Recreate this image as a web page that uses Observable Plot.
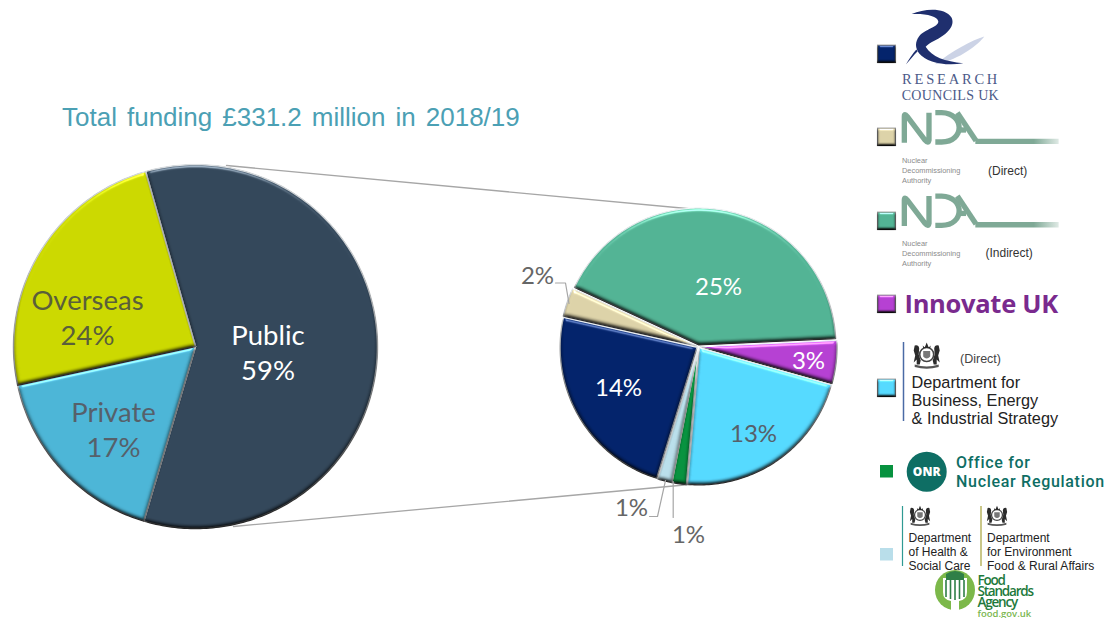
<!DOCTYPE html>
<html>
<head>
<meta charset="utf-8">
<script src="https://cdn.jsdelivr.net/npm/d3@7"></script>
<script src="https://cdn.jsdelivr.net/npm/@observablehq/plot@0.6"></script>
<style>
  html, body { margin: 0; padding: 0; background: #fff; }
  svg { display: block; }
</style>
</head>
<body>
<div id="chart"></div>
<script>
// Funding by source (share of total, %)
const sources = ["Public", "Private", "Overseas"];
const sourceShares = [59, 17, 24];
const sourceColors = ["#33475a", "#4cb5d6", "#cbd800"];
const sourceInk = ["#ffffff", "#56606a", "#5a5f3a"];

// Breakdown of the public share (share of total, %)
const funders = ["NDA (Indirect)", "Innovate UK", "BEIS (Direct)", "ONR", "DHSC, Defra, FSA", "RCUK", "NDA (Direct)"];
const funderShares = [25, 3, 13, 1, 1, 14, 2];
const funderColors = ["#52b394", "#b540d2", "#55d9ff", "#07923f", "#b9deea", "#03236b", "#dcd2a8"];
const funderInk = ["#ffffff", "#ffffff", "#56606a", "#666666", "#666666", "#ffffff", "#666666"];

const title = "Total funding £331.2 million in 2018/19";

// Pie layout, in page pixels
const bigPie = {cx: 195, cy: 346, r: 182, start: -15.9, gap: 0};
const smallPie = {cx: 698, cy: 346, r: 137, start: -65.2, gap: 1.6};

// Label anchors for each slice
const sourceLabelX = [267.5, 113, 87];
const sourceLabelY = [351, 428, 316];
const funderLabelX = [718, 808, 753, 688, 631, 618, 537];
const funderLabelY = [287, 361, 434, 535, 508, 388, 276];

// Walks the shares round the circle and returns one polygon per slice
function slices(names, shares, colors, pie) {
  const total = d3.sum(shares);
  let from = pie.start;
  return names.map((name, i) => {
    const sweep = shares[i] / total * 360;
    const mid = (from + sweep / 2) * Math.PI / 180;
    const ox = pie.cx + pie.gap * Math.sin(mid);
    const oy = pie.cy - pie.gap * Math.cos(mid);
    const points = [{x: ox, y: oy}];
    const steps = Math.ceil(sweep);
    for (let s = 0; s <= steps; s++) {
      const a = (from + sweep * s / steps) * Math.PI / 180;
      points.push({x: ox + pie.r * Math.sin(a), y: oy - pie.r * Math.cos(a)});
    }
    points.push({x: ox, y: oy});
    from += sweep;
    return {name, color: colors[i], points};
  });
}

const labelRows = (names, shares, ink, xs, ys, withName) => names.map((n, i) => ({
  text: withName ? `${n}\n${shares[i]}%` : `${shares[i]}%`, x: xs[i], y: ys[i], ink: ink[i]
}));

// Grey guide lines between the two pies, and the elbow leaders of the small slices
const guides = [
  {id: "upper", x: 226, y: 165}, {id: "upper", x: 697, y: 209},
  {id: "lower", x: 233, y: 526}, {id: "lower", x: 700, y: 483}
];
const leaders = [
  {id: "a", x: 555, y: 282.5}, {id: "a", x: 565, y: 282.5}, {id: "a", x: 568.5, y: 303},
  {id: "b", x: 649, y: 516}, {id: "b", x: 657, y: 516}, {id: "b", x: 665, y: 480},
  {id: "c", x: 672.7, y: 517}, {id: "c", x: 672.7, y: 481}
];

// Legend swatches, in legend order
const swatchFunders = [5, 6, 0, 1, 2, 3, 4];
const swatchTop = [45, 128, 212, 295, 379, 465, 548];
const swatchBevelled = [true, true, true, true, true, false, false];
const swatches = swatchFunders.map((f, i) => ({
  x1: swatchBevelled[i] ? 877.5 : 880,
  x2: swatchBevelled[i] ? 895.5 : 893,
  y1: swatchTop[i],
  y2: swatchTop[i] + (swatchBevelled[i] ? 17.5 : 12.5),
  color: funderColors[f], bevel: swatchBevelled[i]
}));

// Funder names beside the swatches
const logoLines = [
  {t: "Nuclear", x: 901.5, y: 159, s: 7.4, c: "#8b8b8b"},
  {t: "Decommissioning", x: 901.5, y: 169, s: 7.4, c: "#8b8b8b"},
  {t: "Authority", x: 901.5, y: 179, s: 7.4, c: "#8b8b8b"},
  {t: "(Direct)", x: 987.5, y: 171, s: 12, c: "#333"},
  {t: "Nuclear", x: 901.5, y: 242, s: 7.4, c: "#8b8b8b"},
  {t: "Decommissioning", x: 901.5, y: 252.5, s: 7.4, c: "#8b8b8b"},
  {t: "Authority", x: 901.5, y: 262.5, s: 7.4, c: "#8b8b8b"},
  {t: "(Indirect)", x: 985, y: 253, s: 12, c: "#333"},
  {t: "(Direct)", x: 959.5, y: 359.5, s: 12.5, c: "#444"},
  {t: "Department for", x: 911, y: 384, s: 16.3, c: "#222"},
  {t: "Business, Energy", x: 911, y: 402, s: 16.3, c: "#222"},
  {t: "& Industrial Strategy", x: 911, y: 420, s: 16.3, c: "#222"},
  {t: "Department", x: 908, y: 538, s: 12, c: "#222"},
  {t: "of Health &", x: 908, y: 552, s: 12, c: "#222"},
  {t: "Social Care", x: 908, y: 566, s: 12, c: "#222"},
  {t: "Department", x: 986.5, y: 538, s: 12, c: "#222"},
  {t: "for Environment", x: 986.5, y: 552, s: 12, c: "#222"},
  {t: "Food & Rural Affairs", x: 986.5, y: 566, s: 12, c: "#222"}
];

// Hand-drawn artwork for the funder logos
function logoArt() {
  const g = d3.create("svg:g").attr("text-anchor", "start");
  const svgDefs = g.append("defs");
  const fade = svgDefs.append("linearGradient").attr("id", "ndaFade")
    .attr("gradientUnits", "userSpaceOnUse").attr("x1", 316).attr("x2", 566).attr("y1", 0).attr("y2", 0);
  fade.append("stop").attr("offset", "0.7").attr("stop-color", "#7fa996");
  fade.append("stop").attr("offset", "1").attr("stop-color", "#7fa996").attr("stop-opacity", 0.25);

  // Research Councils swirl
  const rc = g.append("g").attr("transform", "translate(895,6.6) scale(0.3333,0.3725)");
  rc.append("path").attr("fill", "#ccd3e6").attr("d", "M120 155 C170 120 230 90 268 80 C240 112 180 145 120 155Z");
  rc.append("path").attr("fill", "#1f2f6e").attr("d", "M50 20 C90 5 150 2 170 30 C182 55 150 78 118 92 C105 98 98 102 92 108 C110 135 150 148 205 152 C150 160 95 150 72 125 C60 110 60 95 72 80 C90 60 130 55 130 40 C128 25 90 18 50 20Z");
  rc.append("path").attr("fill", "#1f2f6e").attr("d", "M33 155 C42 140 52 128 64 115 L68 120 C55 132 44 144 33 155Z");
  g.append("text").attr("x", 902).attr("y", 84).attr("font-family", "Liberation Serif").attr("font-size", 14.5)
    .attr("letter-spacing", 2.8).attr("fill", "#4b5a88").text("RESEARCH");
  g.append("text").attr("x", 901.7).attr("y", 100).attr("font-family", "Liberation Serif").attr("font-size", 14)
    .attr("letter-spacing", 0.33).attr("fill", "#4b5a88").text("COUNCILS UK");

  // NDA wordmark, used twice
  [0, 83.4].forEach(dy => {
    const n = g.append("g").attr("transform", `translate(870,${dy}) scale(0.3333)`)
      .attr("fill", "none").attr("stroke", "#7fa996").attr("stroke-width", 16);
    n.append("path").attr("d", "M103 428 V350 Q103 338 112 350 L165 420 Q175 432 177 420 V338");
    n.append("path").attr("d", "M196 338 H215 C285 340 285 426 215 426 H196");
    n.append("path").attr("d", "M262 338 L318 422");
    n.append("path").attr("d", "M264 390 H288");
    n.append("path").attr("stroke", "url(#ndaFade)").attr("d", "M316 424 H566");
  });

  // Royal crests
  [[926.7, 354.5, 1], [920, 515, 0.78], [997, 515, 0.78]].forEach(([x, y, k]) => {
    const c = g.append("g").attr("transform", `translate(${x},${y}) scale(${k})`).attr("fill", "#2b2b2b");
    c.append("circle").attr("r", 7).attr("fill", "#fff").attr("stroke", "#444").attr("stroke-width", 1.6);
    c.append("path").attr("d", "M-3.5 -3.5 H3.5 V2 Q0 6 -3.5 2Z").attr("fill", "#777");
    c.append("path").attr("d", "M-4 -9 L-2 -7 L0 -12 L2 -7 L4 -9 L3.5 -6.5 H-3.5Z");
    c.append("path").attr("d", "M-12 -9 Q-8 -10 -7.5 -6 L-8 0 L-6 6 L-7 10 L-10 10 L-10 5 L-13 8 L-11.5 1 L-13 -4Z");
    c.append("path").attr("d", "M12 -9 Q8 -10 7.5 -6 L8 0 L6 6 L7 10 L10 10 L10 5 L13 8 L11.5 1 L13 -4Z");
    c.append("path").attr("d", "M-12 10 Q0 14 12 10 L12 12.5 Q0 16 -12 12.5Z").attr("fill", "#555");
  });

  // Rules beside the departmental names
  g.append("path").attr("stroke", "#4a6aa5").attr("stroke-width", 1.5).attr("d", "M903.5 342 V421");
  g.append("path").attr("stroke", "#2f9a93").attr("stroke-width", 1.2).attr("d", "M902.5 506 V566");
  g.append("path").attr("stroke", "#a7a23a").attr("stroke-width", 1.2).attr("d", "M981 506 V566");

  // Office for Nuclear Regulation
  g.append("circle").attr("cx", 926.7).attr("cy", 471.7).attr("r", 20).attr("fill", "#0e6e64");
  g.append("text").attr("x", 926.7).attr("y", 476).attr("text-anchor", "middle").attr("font-family", "Open Sans")
    .attr("font-weight", 800).attr("font-size", 12).attr("fill", "#fff").text("ONR");
  g.append("text").attr("x", 956).attr("y", 468).attr("font-family", "Roboto").attr("font-weight", 500)
    .attr("font-size", 16).attr("letter-spacing", 0.7).attr("fill", "#0e6e64").text("Office for");
  g.append("text").attr("x", 956).attr("y", 486.5).attr("font-family", "Roboto").attr("font-weight", 500)
    .attr("font-size", 16).attr("letter-spacing", 0.7).attr("fill", "#0e6e64").text("Nuclear Regulation");

  // Innovate UK
  g.append("text").attr("x", 904.5).attr("y", 313).attr("font-family", "Open Sans").attr("font-weight", 700)
    .attr("font-size", 25.5).attr("letter-spacing", -0.3).attr("fill", "#7a2a8e").text("Innovate UK");

  // Food Standards Agency
  g.append("circle").attr("cx", 955).attr("cy", 590).attr("r", 20).attr("fill", "#7cb84a");
  g.append("path").attr("fill", "#fff").attr("d", "M943 578 H967 V592 Q967 600 959 601 L959 610 H951 L951 601 Q943 600 943 592Z");
  g.append("path").attr("fill", "#2f7f47").attr("d", "M946 574 Q955 568 964 574 L964 580 H946Z");
  g.append("path").attr("stroke", "#2f7f47").attr("stroke-width", 1.6)
    .attr("d", "M946 580 V597 M950.5 580 V599 M955 580 V600 M959.5 580 V599 M964 580 V597");
  [["Food", 585], ["Standards", 595.5], ["Agency", 607]].forEach(([t, y]) => {
    g.append("text").attr("x", 977.5).attr("y", y).attr("font-family", "Open Sans").attr("font-weight", 600)
      .attr("font-size", 13.5).attr("letter-spacing", -1.2).attr("fill", "#1e7a3c").text(t);
  });
  g.append("text").attr("x", 977.5).attr("y", 616.5).attr("font-family", "Open Sans").attr("font-weight", 600)
    .attr("font-size", 9.5).attr("fill", "#7ab64e").text("food.gov.uk");
  return g.node();
}

const sliceMarks = (parts, rim, rimWidth) => parts.map(p =>
  Plot.line(p.points, {x: "x", y: "y", fill: p.color, stroke: rim, strokeWidth: rimWidth}));

const chart = Plot.plot({
  width: 1111, height: 618,
  marginTop: 0, marginRight: 0, marginBottom: 0, marginLeft: 0,
  x: {type: "linear", domain: [0, 1111], range: [0, 1111], axis: null},
  y: {type: "linear", domain: [0, 618], range: [0, 618], axis: null},
  marks: [
    Plot.line(guides, {x: "x", y: "y", z: "id", stroke: "#a6a6a6", strokeWidth: 1.3}),
    ...sliceMarks(slices(sources, sourceShares, sourceColors, bigPie), "#c9cdd0", 1.5),
    ...sliceMarks(slices(funders, funderShares, funderColors, smallPie), "#dfe3e6", 1.3),
    Plot.line(leaders, {x: "x", y: "y", z: "id", stroke: "#a6a6a6", strokeWidth: 1.2}),
    Plot.text(labelRows(sources, sourceShares, sourceInk, sourceLabelX, sourceLabelY, true), {
      x: "x", y: "y", text: "text", fill: "ink", fontFamily: "Lato", fontSize: 27.5, lineHeight: 1.27, lineAnchor: "middle"
    }),
    Plot.text(labelRows(funders, funderShares, funderInk, funderLabelX, funderLabelY, false), {
      x: "x", y: "y", text: "text", fill: "ink", fontFamily: "Lato", fontSize: 24, lineAnchor: "middle"
    }),
    Plot.text([title], {
      x: () => 61.5, y: () => 117, text: d => d, textAnchor: "start", lineAnchor: "middle",
      fill: "#4ba0b4", fontFamily: "Liberation Sans", fontSize: 26
    }),
    Plot.rect(swatches, {x1: "x1", x2: "x2", y1: "y1", y2: "y2", fill: d => d.color, stroke: d => d.bevel ? "#8a8a8a" : "none", strokeWidth: 1.2}),
    Plot.text(logoLines, {
      x: "x", y: "y", text: "t", fontSize: "s", fill: "c", textAnchor: "start", lineAnchor: "bottom", fontFamily: "Liberation Sans", dy: 3
    }),
    logoArt
  ]
});

// Raised-edge lighting shared by the pie slices and bevelled swatches
const defs = d3.select(chart).insert("defs", ":first-child");
function addBevel(id, blur, scale) {
  const bevel = defs.append("filter").attr("id", id).attr("x", "-10%").attr("y", "-10%")
    .attr("width", "120%").attr("height", "120%").attr("color-interpolation-filters", "sRGB");
  bevel.append("feGaussianBlur").attr("in", "SourceAlpha").attr("stdDeviation", blur).attr("result", "height");
  bevel.append("feDiffuseLighting").attr("in", "height").attr("surfaceScale", scale).attr("diffuseConstant", 1.25)
    .attr("lighting-color", "#fff").attr("result", "shade")
    .append("feDistantLight").attr("azimuth", 270).attr("elevation", 53);
  bevel.append("feBlend").attr("in", "SourceGraphic").attr("in2", "shade").attr("mode", "multiply").attr("result", "shaded");
  bevel.append("feSpecularLighting").attr("in", "height").attr("surfaceScale", scale).attr("specularConstant", 0.7)
    .attr("specularExponent", 40).attr("lighting-color", "#fff").attr("result", "spec")
    .append("feDistantLight").attr("azimuth", 270).attr("elevation", 35);
  bevel.append("feComposite").attr("in", "spec").attr("in2", "SourceAlpha").attr("operator", "in").attr("result", "rim");
  bevel.append("feComposite").attr("in", "shaded").attr("in2", "rim").attr("operator", "arithmetic")
    .attr("k1", 0).attr("k2", 1).attr("k3", 0.6).attr("k4", 0).attr("result", "lit");
  bevel.append("feComposite").attr("in", "lit").attr("in2", "SourceAlpha").attr("operator", "in");
}
addBevel("bevel", 2, 3);
addBevel("bevelSmall", 1.5, 2.5);

// Slices are the line marks that carry a fill
chart.querySelectorAll('g[aria-label="line"]').forEach(g => {
  if (g.getAttribute("fill") !== "none") g.setAttribute("filter", "url(#bevel)");
});
chart.querySelectorAll('g[aria-label="rect"] rect').forEach(r => {
  if (r.getAttribute("stroke") !== "none") r.setAttribute("filter", "url(#bevelSmall)");
});
[...chart.querySelectorAll("text")].find(t => t.textContent === title).style.wordSpacing = "2.8px";

document.getElementById("chart").appendChild(chart);
</script>
</body>
</html>
